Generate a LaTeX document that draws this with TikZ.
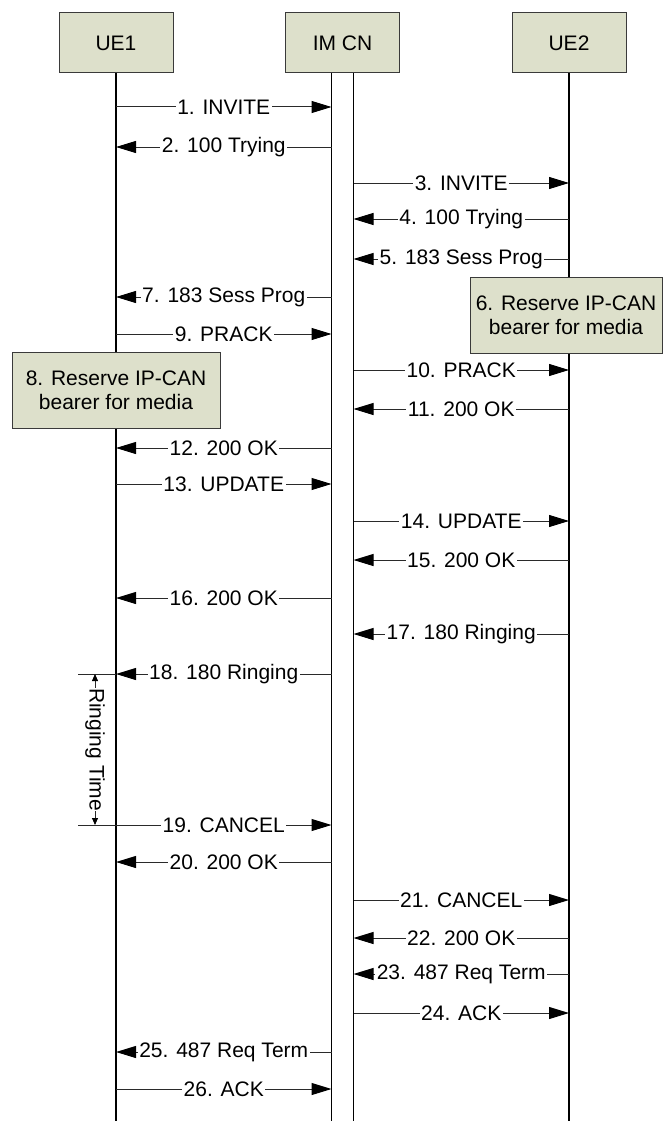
\documentclass[tikz,border=0pt]{standalone}
\usepackage{fontspec}
\setmainfont{Liberation Sans}
\usetikzlibrary{arrows.meta, positioning}
\definecolor{cBox}{HTML}{DDE0CB}
\definecolor{cEdge}{HTML}{3A3A3A}
\definecolor{cLine}{HTML}{2A2A2A}

\begin{document}
\begin{tikzpicture}[
    x=1pt, y=-1pt,
    font=\fontsize{21}{24}\selectfont,
    % ---------------------------------------------------------
    % ESTILOS BASE
    % ---------------------------------------------------------
    entity/.style={
        rectangle,
        draw=cEdge,
        fill=cBox,
        line width=1pt,
        minimum width=114pt,
        minimum height=60pt,
        inner sep=0pt
    },
    action/.style={
        rectangle,
        draw=cEdge,
        fill=cBox,
        line width=1pt,
        minimum width=#1,
        minimum height=76pt,
        align=center,
        inner sep=0pt
    },
    lifeline/.style={
        draw=black,
        line width=1.6pt
    },
    msg/.style={
        draw=cLine,
        line width=1pt,
        -{Triangle[length=20pt, width=12pt, color=black]}
    },
    msg label/.style={
        fill=white,
        text=black,
        inner sep=1.5pt
    },
    dim line/.style={
        draw=cLine,
        line width=0.8pt
    },
    dim arrow/.style={
        draw=cLine,
        line width=0.8pt,
        {Triangle[length=7pt, width=6pt, color=black]}-{Triangle[length=7pt, width=6pt, color=black]}
    }
]

\useasboundingbox (0,0) rectangle (663,1121);
\clip (0,0) rectangle (663,1121);

% ---------------------------------------------------------
% 1. ENTIDADES
% ---------------------------------------------------------
\node[entity] (UE1) at (116,43) {UE1};
\node[entity] (IMCN) at (342.5,43) {IM CN};
\node[entity] (UE2) at (569,43) {UE2};

% Puntos de las lineas de vida
\coordinate (pUE1) at (UE1.south);
\coordinate (pCNa) at ([xshift=-11]IMCN.south);
\coordinate (pCNb) at ([xshift=11]IMCN.south);
\coordinate (pUE2) at (UE2.south);
\coordinate (fin) at (0,1121);

% ---------------------------------------------------------
% 2. LINEAS DE VIDA
% ---------------------------------------------------------
\draw[lifeline] (pUE1) -- (pUE1 |- fin);
\draw[lifeline] (pCNa) -- (pCNa |- fin);
\draw[lifeline] (pCNb) -- (pCNb |- fin);
\draw[lifeline] (pUE2) -- (pUE2 |- fin);

% ---------------------------------------------------------
% 3. MENSAJES (y / origen / destino / texto)
% ---------------------------------------------------------
\foreach \y/\src/\dst/\txt [count=\i] in {
    107/pUE1/pCNa/{1. INVITE},
    147/pCNa/pUE1/{2. 100 Trying},
    183/pCNb/pUE2/{3. INVITE},
    219/pUE2/pCNb/{4. 100 Trying},
    259/pUE2/pCNb/{5. 183 Sess Prog},
    297/pCNa/pUE1/{7. 183 Sess Prog},
    334/pUE1/pCNa/{9. PRACK},
    370/pCNb/pUE2/{10. PRACK},
    409/pUE2/pCNb/{11. 200 OK},
    448/pCNa/pUE1/{12. 200 OK},
    484/pUE1/pCNa/{13. UPDATE},
    521/pCNb/pUE2/{14. UPDATE},
    560/pUE2/pCNb/{15. 200 OK},
    598/pCNa/pUE1/{16. 200 OK},
    634/pUE2/pCNb/{17. 180 Ringing},
    674/pCNa/pUE1/{18. 180 Ringing},
    825/pUE1/pCNa/{19. CANCEL},
    862/pCNa/pUE1/{20. 200 OK},
    900/pCNb/pUE2/{21. CANCEL},
    938/pUE2/pCNb/{22. 200 OK},
    974/pUE2/pCNb/{23. 487 Req Term},
    1013/pCNb/pUE2/{24. ACK},
    1052/pCNa/pUE1/{25. 487 Req Term},
    1089/pUE1/pCNa/{26. ACK}%
}{
    \coordinate (m\i a) at (\src |- 0,\y);
    \coordinate (m\i b) at (\dst |- 0,\y);
    \draw[msg] (m\i a) -- node[msg label] (t\i) {\txt} (m\i b);
}

% ---------------------------------------------------------
% 4. RESERVA DE RECURSOS
% ---------------------------------------------------------
\node[action=192pt] (res6) at (566,315) {6. Reserve IP-CAN\\bearer for media};
\node[action=208pt] (res8) at (116,390.5) {8. Reserve IP-CAN\\bearer for media};

% ---------------------------------------------------------
% 5. TIEMPO DE TIMBRADO
% ---------------------------------------------------------
\coordinate (rtA) at (78,674);
\coordinate (rtB) at (78,825);
\coordinate (rdA) at (95,674);
\coordinate (rdB) at (95,825);
\draw[dim line] (rtA) -- (rtA -| pUE1);
\draw[dim line] (rtB) -- (rtB -| pUE1);
\draw[dim arrow] (rdA) -- node[msg label, rotate=-90, inner sep=0.5pt] (ring) {Ringing Time} (rdB);

\end{tikzpicture}
\end{document}
